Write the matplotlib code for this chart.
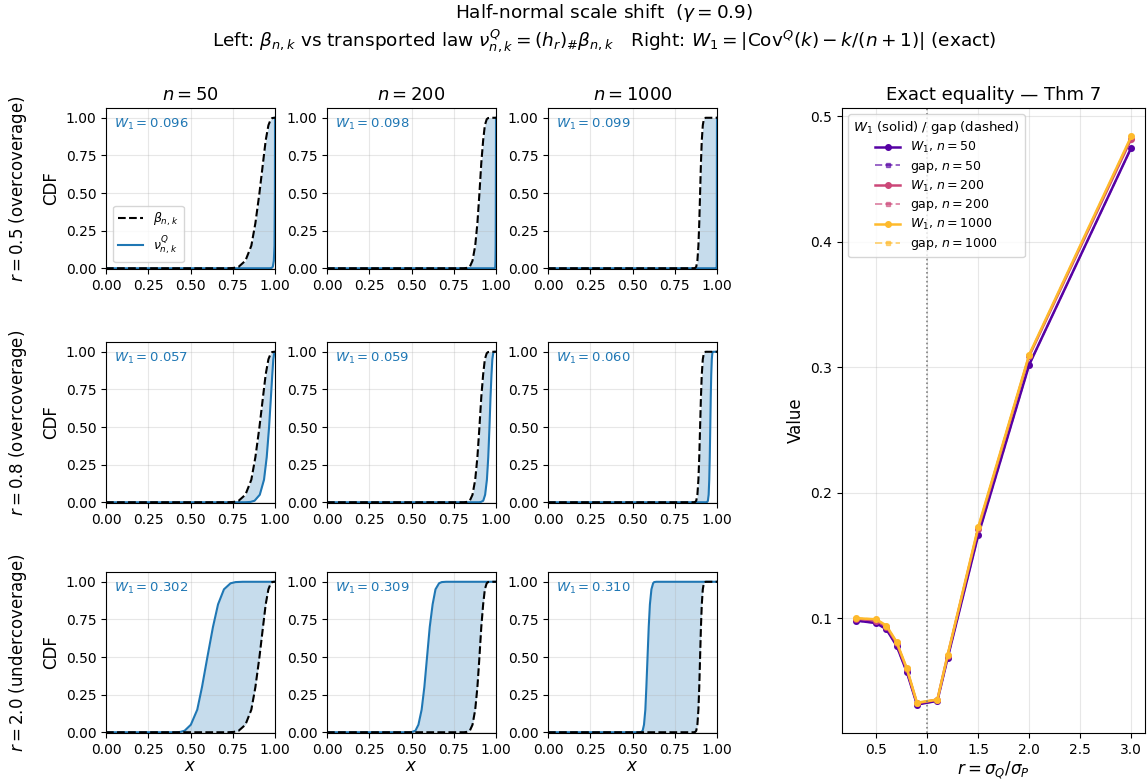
import matplotlib
matplotlib.use("Agg")
import matplotlib.pyplot as plt
from matplotlib.ticker import FormatStrFormatter

# ---------------- data ----------------
N_VALUES = [50, 200, 1000]
R_ROWS = [0.5, 0.8, 2.0]
ROW_LABELS = ["$r = 0.5$ (overcoverage)", "$r = 0.8$ (overcoverage)", "$r = 2.0$ (undercoverage)"]

# CDF levels at which the curve positions were read
CDF_LEVELS = [0, 0, 0.002, 0.01, 0.05, 0.15, 0.3, 0.5, 0.7, 0.85, 0.95, 0.99, 0.998, 1, 1]

# beta_{n,k} curve: x positions at each CDF level (one list per n)
BETA_X_N50 = [0, 0.72, 0.755, 0.785, 0.825, 0.860, 0.884, 0.908, 0.929, 0.945, 0.961, 0.975, 0.983, 0.995, 1]
BETA_X_N200 = [0, 0.81, 0.826, 0.845, 0.861, 0.877, 0.890, 0.902, 0.913, 0.924, 0.934, 0.945, 0.953, 0.965, 1]
BETA_X_N1000 = [0, 0.862, 0.871, 0.877, 0.884, 0.890, 0.895, 0.900, 0.905, 0.910, 0.916, 0.922, 0.926, 0.934, 1]

# transported law nu^Q_{n,k}: x positions at each CDF level
NU_X_R05_N50 = [0, 0.969, 0.980, 0.987, 0.993, 0.997, 0.998, 0.9993, 0.9997, 1.0, 1.0, 1.0, 1.0, 1.0, 1]
NU_X_R05_N200 = [0, 0.9913, 0.9935, 0.9955, 0.9969, 0.998, 0.9986, 0.9991, 0.9995, 0.9998, 1.0, 1.0, 1.0, 1.0, 1]
NU_X_R05_N1000 = [0, 0.997, 0.9976, 0.998, 0.9986, 0.9988, 0.999, 0.9992, 0.9994, 0.9996, 0.9998, 1.0, 1.0, 1.0, 1]
NU_X_R08_N50 = [0, 0.823, 0.854, 0.879, 0.910, 0.935, 0.951, 0.965, 0.976, 0.984, 0.990, 0.995, 0.9972, 0.9996, 1]
NU_X_R08_N200 = [0, 0.8988, 0.9108, 0.9245, 0.9357, 0.9462, 0.9542, 0.9614, 0.9676, 0.9734, 0.9784, 0.9836, 0.9869, 0.9916, 1]
NU_X_R08_N1000 = [0, 0.9362, 0.9422, 0.9462, 0.9506, 0.9542, 0.9572, 0.9602, 0.963, 0.966, 0.9692, 0.9724, 0.9745, 0.9784, 1]
NU_X_R20_N50 = [0, 0.411, 0.439, 0.465, 0.502, 0.540, 0.568, 0.600, 0.633, 0.663, 0.698, 0.737, 0.767, 0.810, 1]
NU_X_R20_N200 = [0, 0.488, 0.503, 0.523, 0.541, 0.560, 0.576, 0.592, 0.608, 0.625, 0.642, 0.663, 0.679, 0.705, 1]
NU_X_R20_N1000 = [0, 0.5416, 0.552, 0.560, 0.568, 0.576, 0.582, 0.589, 0.596, 0.603, 0.612, 0.622, 0.628, 0.642, 1]

W1_PANEL = [[0.096, 0.098, 0.099],
            [0.057, 0.059, 0.060],
            [0.302, 0.309, 0.310]]

# right panel
R_VALUES = [0.3, 0.5, 0.6, 0.7, 0.8, 0.9, 1.1, 1.2, 1.5, 2.0, 3.0]
W1_N50 = [0.098, 0.096, 0.091, 0.078, 0.057, 0.031, 0.034, 0.068, 0.166, 0.302, 0.475]
W1_N200 = [0.0995, 0.098, 0.093, 0.080, 0.059, 0.032, 0.035, 0.070, 0.171, 0.309, 0.482]
W1_N1000 = [0.0999, 0.099, 0.094, 0.081, 0.060, 0.0325, 0.035, 0.0705, 0.1725, 0.310, 0.484]
GAP_N50 = [0.098, 0.096, 0.091, 0.078, 0.057, 0.031, 0.034, 0.068, 0.166, 0.302, 0.475]
GAP_N200 = [0.0995, 0.098, 0.093, 0.080, 0.059, 0.032, 0.035, 0.070, 0.171, 0.309, 0.482]
GAP_N1000 = [0.0999, 0.099, 0.094, 0.081, 0.060, 0.0325, 0.035, 0.0705, 0.1725, 0.310, 0.484]

BETA_X = [BETA_X_N50, BETA_X_N200, BETA_X_N1000]
NU_X = [[NU_X_R05_N50, NU_X_R05_N200, NU_X_R05_N1000],
        [NU_X_R08_N50, NU_X_R08_N200, NU_X_R08_N1000],
        [NU_X_R20_N50, NU_X_R20_N200, NU_X_R20_N1000]]

# ---------------- figure ----------------
fig = plt.figure(figsize=(11.48, 7.8), dpi=100)
C0 = "#1f77b4"

col_left = [106, 327, 548]
col_w = 169
row_top = [108, 342, 572]
row_h = 161
W, H = 1148, 780

for i in range(3):
    for j in range(3):
        ax = fig.add_axes([col_left[j] / W, 1 - (row_top[i] + row_h) / H, col_w / W, row_h / H])
        bx = BETA_X[j]
        nx = NU_X[i][j]
        ax.fill_betweenx(CDF_LEVELS, bx, nx, color=C0, alpha=0.25, lw=0, zorder=1)
        ln_nu, = ax.plot(nx, CDF_LEVELS, color=C0, lw=1.5, zorder=2,
                         label=r"$\nu^{Q}_{n,k}$")
        ln_b, = ax.plot(bx, CDF_LEVELS, color="black", ls="--", lw=1.5, zorder=3,
                        label=r"$\beta_{n,k}$")
        ax.set_xlim(0, 1)
        ax.set_ylim(-0.005, 1.065)
        ticks = [0, 0.25, 0.5, 0.75, 1.0]
        ax.set_xticks(ticks)
        ax.set_yticks(ticks)
        ax.xaxis.set_major_formatter(FormatStrFormatter("%.2f"))
        ax.yaxis.set_major_formatter(FormatStrFormatter("%.2f"))
        ax.tick_params(labelsize=10)
        ax.grid(True, alpha=0.3)
        ax.text(0.05, 0.895, r"$W_1 = %.3f$" % W1_PANEL[i][j], transform=ax.transAxes,
                color=C0, fontsize=9.5, va="center", ha="left")
        if i == 0:
            ax.set_title(r"$n = %d$" % N_VALUES[j], fontsize=13)
        if j == 0:
            ax.set_ylabel("CDF", fontsize=12)
        if i == 2:
            ax.set_xlabel("$x$", fontsize=12, labelpad=0)
        if i == 0 and j == 0:
            ax.legend(handles=[ln_b, ln_nu], loc="lower left", fontsize=9,
                      bbox_to_anchor=(0.02, 0.02), borderaxespad=0.3)

row_centers = [(row_top[i] + row_h / 2) for i in range(3)]
for i in range(3):
    fig.text(18 / W, 1 - row_centers[i] / H, ROW_LABELS[i], rotation=90,
             ha="center", va="center", fontsize=12)

# right panel
axr = fig.add_axes([842 / W, 1 - 733 / H, 303 / W, 625 / H])
colors = plt.get_cmap("plasma")([0.15, 0.5, 0.85])
W1S = [W1_N50, W1_N200, W1_N1000]
GAPS = [GAP_N50, GAP_N200, GAP_N1000]
for c, n, w1, gp in zip(colors, N_VALUES, W1S, GAPS):
    axr.plot(R_VALUES, w1, color=c, lw=1.8, marker="o", ms=4,
             label=r"$W_1$, $n = %d$" % n)
    axr.plot(R_VALUES, gp, color=c, lw=1.4, ls="--", marker="s", ms=3.5, alpha=0.6,
             label=r"gap, $n = %d$" % n)
axr.axvline(1.0, color="gray", ls=":", lw=1.2)
axr.grid(True, alpha=0.3)
axr.set_title("Exact equality — Thm 7", fontsize=13)
axr.set_xlabel(r"$r = \sigma_Q/\sigma_P$", fontsize=12, labelpad=2)
axr.set_ylabel("Value", fontsize=12)
axr.tick_params(labelsize=10)
axr.legend(title=r"$W_1$ (solid) / gap (dashed)", fontsize=9, title_fontsize=9.5,
           loc="upper left", labelspacing=0.3)

fig.suptitle("Half-normal scale shift  ($\\gamma = 0.9$)\n"
             r"Left: $\beta_{n,k}$ vs transported law $\nu^{Q}_{n,k} = (h_r)_{\#}\beta_{n,k}$"
             r"   Right: $W_1 = |\mathrm{Cov}^{Q}(k) - k/(n+1)|$ (exact)",
             fontsize=13.3, x=0.526, y=0.998, va="top")

fig.savefig("out.png", dpi=100)
